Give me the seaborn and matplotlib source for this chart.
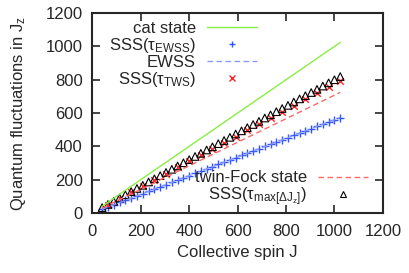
import matplotlib
matplotlib.use("Agg")
import matplotlib.pyplot as plt
import seaborn as sns
from matplotlib.lines import Line2D

# collective spin J sampled for the SSS curves
spin_j = [40, 64, 88, 112, 136, 160, 184, 208, 232, 256, 280, 304, 328, 352,
          376, 400, 424, 448, 472, 496, 520, 544, 568, 592, 616, 640, 664, 688,
          712, 736, 760, 784, 808, 832, 856, 880, 904, 928, 952, 976, 1000, 1024]
sss_max = [32, 51, 70, 90, 109, 128, 147, 166, 186, 205, 224, 243, 262, 282,
           301, 320, 339, 358, 378, 397, 416, 435, 454, 474, 493, 512, 531, 550,
           570, 589, 608, 627, 646, 666, 685, 704, 723, 742, 762, 781, 800, 819]
sss_ewss = [22, 36, 49, 63, 76, 90, 103, 116, 130, 143, 157, 170, 184, 197,
            211, 224, 237, 251, 264, 278, 291, 305, 318, 332, 345, 358, 372, 385,
            399, 412, 426, 439, 452, 466, 479, 493, 506, 520, 533, 547, 560, 573]

spin_j_tws = [64, 112, 160, 208, 256, 304, 352, 400, 448, 496, 544, 592, 640,
              688, 736, 784, 832, 880, 928, 976, 1024]
sss_tws = [50, 87, 124, 161, 198, 236, 273, 310, 347, 384, 422, 459, 496,
           533, 570, 608, 645, 682, 719, 756, 794]

# reference states (straight lines)
line_j = [40, 1024]
cat_state = [40, 1024]
ewss = [22, 573]
twin_fock = [29, 724]

sns.set_style("ticks")
plt.rcParams["font.family"] = ["Liberation Sans", "DejaVu Sans"]
plt.rcParams["mathtext.fontset"] = "custom"
plt.rcParams["mathtext.rm"] = "Liberation Sans"
plt.rcParams["mathtext.it"] = "Liberation Sans:italic"
plt.rcParams["font.size"] = 12

fig = plt.figure(figsize=(4.09, 2.73), dpi=100)
ax = fig.add_axes([0.226, 0.22, 0.71, 0.732])

green = "#88ee44"
blue = "#3355ff"
lblue = "#8899ff"
red = "#ff2222"
lred = "#ff6666"

sns.lineplot(x=line_j, y=cat_state, color=green, lw=1.0, ax=ax)
sns.scatterplot(x=spin_j, y=sss_ewss, marker="+", color=blue, s=28, linewidth=1.0, ax=ax)
sns.lineplot(x=line_j, y=ewss, color=lblue, lw=1.0, dashes=(4, 2.5), ax=ax)
sns.scatterplot(x=spin_j_tws, y=sss_tws, marker="x", color=red, s=22, linewidth=1.0, ax=ax)
sns.lineplot(x=line_j, y=twin_fock, color=lred, lw=1.0, dashes=(4, 2.5), ax=ax)
sns.scatterplot(x=spin_j, y=sss_max, marker="^", facecolor="none", edgecolor="black",
                s=30, linewidth=0.8, ax=ax)

ax.set_xlim(0, 1200)
ax.set_ylim(0, 1200)
ax.set_xticks(range(0, 1201, 200))
ax.set_yticks(range(0, 1201, 200))
ax.tick_params(direction="in", top=True, right=True, length=6, width=1.2, labelsize=12)
ax.tick_params(axis="x", pad=8)
ax.tick_params(axis="y", pad=7)
for sp in ax.spines.values():
    sp.set_linewidth(1.5)
ax.set_xlabel("Collective spin J", fontsize=12, labelpad=4)
ax.set_ylabel(r"Quantum fluctuations in J$_\mathregular{z}$", fontsize=12, labelpad=13)

legend_kw = dict(frameon=False, markerfirst=False, handlelength=3.0, handletextpad=0.65,
                 labelspacing=0.0, fontsize=12, borderpad=0, borderaxespad=0)

# top-left key: cat state on its own row so the spacing stays even
leg0 = ax.legend([Line2D([], [], color=green, lw=1.0)], ["cat state"],
                 loc="center right", bbox_to_anchor=(0.566, 0.925), **legend_kw)
ax.add_artist(leg0)

h1 = [Line2D([], [], ls="none", marker="+", color=blue, ms=5),
      Line2D([], [], color=lblue, lw=1.0, dashes=(4, 2.5)),
      Line2D([], [], ls="none", marker="x", color=red, ms=5)]
l1 = [r"SSS($\mathregular{\tau_{EWSS}}$)", "EWSS", r"SSS($\mathregular{\tau_{TWS}}$)"]
leg1 = ax.legend(h1, l1, loc="center right", bbox_to_anchor=(0.566, 0.755), **legend_kw)
ax.add_artist(leg1)

h2 = [Line2D([], [], color=lred, lw=1.0, dashes=(4, 2.5)),
      Line2D([], [], ls="none", marker="^", mfc="none", mec="black", ms=4.5, mew=0.8)]
l2 = ["twin-Fock state", r"SSS($\mathregular{\tau_{max[\Delta J_z]}}$)"]
ax.legend(h2, l2, loc="lower right", bbox_to_anchor=(0.948, 0.025), **legend_kw)

fig.savefig("out.png", dpi=100)
